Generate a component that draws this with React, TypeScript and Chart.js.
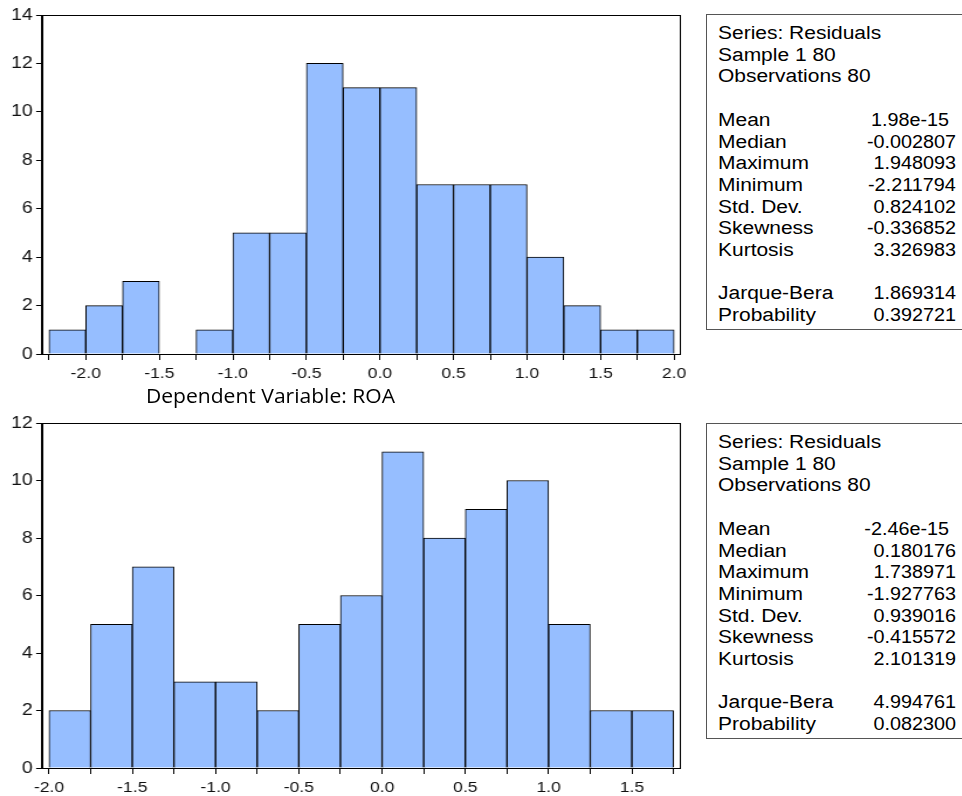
import React, { useEffect, useRef } from "react";
import { Chart, registerables } from "chart.js";

Chart.register(...registerables);

// ---------- DATA ----------
const topBinCenters = [-2.125, -1.875, -1.625, -1.375, -1.125, -0.875, -0.625, -0.375, -0.125, 0.125, 0.375, 0.625, 0.875, 1.125, 1.375, 1.625, 1.875];
const topCounts = [1, 2, 3, 0, 1, 5, 5, 12, 11, 11, 7, 7, 7, 4, 2, 1, 1];
const topXTicks = [-2.25, -2.0, -1.75, -1.5, -1.25, -1.0, -0.75, -0.5, -0.25, 0.0, 0.25, 0.5, 0.75, 1.0, 1.25, 1.5, 1.75, 2.0];
const topYTicks = [0, 2, 4, 6, 8, 10, 12, 14];

const bottomBinCenters = [-1.875, -1.625, -1.375, -1.125, -0.875, -0.625, -0.375, -0.125, 0.125, 0.375, 0.625, 0.875, 1.125, 1.375, 1.625];
const bottomCounts = [2, 5, 7, 3, 3, 2, 5, 6, 11, 8, 9, 10, 5, 2, 2];
const bottomXTicks = [-2.0, -1.75, -1.5, -1.25, -1.0, -0.75, -0.5, -0.25, 0.0, 0.25, 0.5, 0.75, 1.0, 1.25, 1.5, 1.75];
const bottomYTicks = [0, 2, 4, 6, 8, 10, 12];

const headerLines = ["Series: Residuals", "Sample 1 80", "Observations 80"];
const statLabels = ["Mean", "Median", "Maximum", "Minimum", "Std. Dev.", "Skewness", "Kurtosis"];
const testLabels = ["Jarque-Bera", "Probability"];
const topStatValues = ["1.98e-15", "-0.002807", "1.948093", "-2.211794", "0.824102", "-0.336852", "3.326983"];
const topTestValues = ["1.869314", "0.392721"];
const bottomStatValues = ["-2.46e-15", "0.180176", "1.738971", "-1.927763", "0.939016", "-0.415572", "2.101319"];
const bottomTestValues = ["4.994761", "0.082300"];

const middleTitle = "Dependent Variable: ROA";

// ---------- CHART ----------
const SX = 1.17; // horizontal stretch of the picture

const frame = {
  id: "frame",
  afterDraw(chart: any) {
    const { ctx, chartArea } = chart;
    ctx.save();
    ctx.strokeStyle = "#000";
    ctx.lineWidth = 1;
    ctx.strokeRect(
      Math.round(chartArea.left) + 0.5,
      Math.round(chartArea.top) + 0.5,
      Math.round(chartArea.right - chartArea.left),
      Math.round(chartArea.bottom - chartArea.top)
    );
    ctx.restore();
  },
};

type HistProps = {
  centers: number[];
  counts: number[];
  xTicks: number[];
  yTicks: number[];
  xMin: number;
  xMax: number;
  yMax: number;
  height: number;
  padTop: number;
  axisHeight: number;
};

function Histogram(p: HistProps) {
  const ref = useRef<HTMLCanvasElement>(null);
  const W = Math.round(700 / SX);
  useEffect(() => {
    if (!ref.current) return;
    const chart = new Chart(ref.current, {
      type: "bar",
      data: {
        datasets: [
          {
            data: p.centers.map((c, i) => ({ x: c, y: p.counts[i] })),
            backgroundColor: "#96BEFF",
            borderColor: "#000",
            borderWidth: 1,
            barPercentage: 1,
            categoryPercentage: 1,
          },
        ],
      },
      options: {
        animation: false,
        responsive: false,
        maintainAspectRatio: false,
        devicePixelRatio: 1,
        layout: { padding: { top: p.padTop, right: W - 680 / SX, left: 0, bottom: 0 } },
        plugins: { legend: { display: false }, tooltip: { enabled: false } },
        scales: {
          x: {
            type: "linear",
            min: p.xMin,
            max: p.xMax,
            offset: false,
            afterBuildTicks: (s: any) => {
              s.ticks = p.xTicks.map((v) => ({ value: v }));
            },
            afterFit: (s: any) => {
              s.height = p.axisHeight;
            },
            ticks: {
              autoSkip: false,
              maxRotation: 0,
              padding: 5,
              color: "#111",
              font: { family: "Liberation Sans, Arial, sans-serif", size: 15 },
              callback: (v: any) => {
                const n = Number(v);
                if (Math.abs(Math.round(n * 2) - n * 2) > 1e-9) return "";
                return n.toFixed(1);
              },
            },
            grid: { display: true, drawOnChartArea: false, drawTicks: true, tickLength: 6, color: "#000", offset: false },
            border: { display: true, color: "#000", width: 1 },
          },
          y: {
            type: "linear",
            min: 0,
            max: p.yMax,
            afterBuildTicks: (s: any) => {
              s.ticks = p.yTicks.map((v) => ({ value: v }));
            },
            afterFit: (s: any) => {
              s.width = 42 / SX;
            },
            ticks: {
              padding: 3,
              color: "#111",
              font: { family: "Liberation Sans, Arial, sans-serif", size: 16.5 },
              callback: (v: any) => String(v),
            },
            grid: { display: true, drawOnChartArea: false, drawTicks: true, tickLength: 5, color: "#000" },
            border: { display: true, color: "#000", width: 1 },
          },
        },
      },
      plugins: [frame],
    } as any);
    return () => chart.destroy();
  }, []);
  return (
    <div style={{ transform: `scaleX(${SX})`, transformOrigin: "0 0", width: W }}>
      <canvas ref={ref} width={W} height={p.height} style={{ display: "block", width: W, height: p.height }} />
    </div>
  );
}

const textFont = "'Liberation Sans', Arial, sans-serif";
const LINE = 21.7;

function StatsBox({ values, tests, top }: { values: string[]; tests: string[]; top: number }) {
  const rows: { label: string; value: string; y: number; shift: number }[] = [];
  let y = 8;
  headerLines.forEach((h) => {
    rows.push({ label: h, value: "", y, shift: 0 });
    y += LINE;
  });
  y += LINE;
  statLabels.forEach((l, i) => {
    rows.push({ label: l, value: values[i], y, shift: i === 0 ? 7 : 0 });
    y += LINE;
  });
  y += LINE;
  testLabels.forEach((l, i) => {
    rows.push({ label: l, value: tests[i], y, shift: 0 });
    y += LINE;
  });
  return (
    <div
      style={{
        position: "absolute",
        left: 706,
        top,
        width: 280,
        height: 316,
        border: "1px solid #555",
        boxSizing: "border-box",
        fontFamily: textFont,
        fontSize: 18,
        color: "#000",
      }}
    >
      {rows.map((r, i) => (
        <React.Fragment key={i}>
          <div
            style={{
              position: "absolute",
              left: 11,
              top: r.y,
              lineHeight: "20px",
              whiteSpace: "nowrap",
              transform: "scaleX(1.165)",
              transformOrigin: "0 0",
            }}
          >
            {r.label}
          </div>
          {r.value && (
            <div
              style={{
                position: "absolute",
                right: 280 - 251 + r.shift,
                top: r.y,
                lineHeight: "20px",
                whiteSpace: "nowrap",
                textAlign: "right",
                transform: "scaleX(1.1)",
                transformOrigin: "100% 0",
              }}
            >
              {r.value}
            </div>
          )}
        </React.Fragment>
      ))}
    </div>
  );
}

export default function App() {
  return (
    <div style={{ position: "absolute", left: 0, top: 0, width: 962, height: 796, overflow: "hidden", background: "#fff" }}>
      <div style={{ position: "absolute", left: 0, top: 0 }}>
        <Histogram
          centers={topBinCenters}
          counts={topCounts}
          xTicks={topXTicks}
          yTicks={topYTicks}
          xMin={-2.2975}
          xMax={2.04}
          yMax={14}
          height={384}
          padTop={15}
          axisHeight={30}
        />
      </div>
      <div
        style={{
          position: "absolute",
          left: 146,
          top: 383,
          fontFamily: "'Open Sans', sans-serif",
          fontSize: 19.5,
          lineHeight: "26px",
          color: "#000",
          whiteSpace: "nowrap",
          transform: "scaleX(1.08)",
          transformOrigin: "0 0",
        }}
      >
        {middleTitle}
      </div>
      <div style={{ position: "absolute", left: 0, top: 400 }}>
        <Histogram
          centers={bottomBinCenters}
          counts={bottomCounts}
          xTicks={bottomXTicks}
          yTicks={bottomYTicks}
          xMin={-2.042}
          xMax={1.789}
          yMax={12}
          height={400}
          padTop={23}
          axisHeight={32}
        />
      </div>
      <StatsBox values={topStatValues} tests={topTestValues} top={14} />
      <StatsBox values={bottomStatValues} tests={bottomTestValues} top={423} />
    </div>
  );
}
